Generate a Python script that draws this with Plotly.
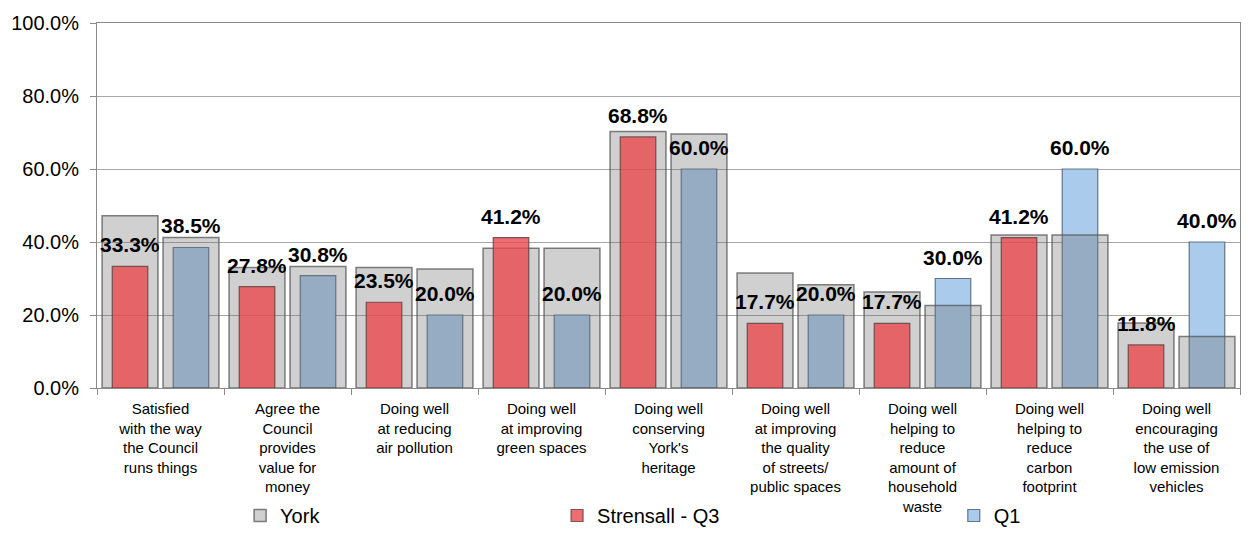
import plotly.graph_objects as go

categories = [
    "Satisfied<br>with the way<br>the Council<br>runs things",
    "Agree the<br>Council<br>provides<br>value for<br>money",
    "Doing well<br>at reducing<br>air pollution",
    "Doing well<br>at improving<br>green spaces",
    "Doing well<br>conserving<br>York's<br>heritage",
    "Doing well<br>at improving<br>the quality<br>of streets/<br>public spaces",
    "Doing well<br>helping to<br>reduce<br>amount of<br>household<br>waste",
    "Doing well<br>helping to<br>reduce<br>carbon<br>footprint",
    "Doing well<br>encouraging<br>the use of<br>low emission<br>vehicles",
]
york_q3 = [0.472, 0.330, 0.330, 0.383, 0.703, 0.315, 0.263, 0.419, 0.178]
york_q1 = [0.412, 0.333, 0.326, 0.383, 0.696, 0.283, 0.226, 0.419, 0.141]
strensall_q3 = [0.333, 0.278, 0.235, 0.412, 0.688, 0.177, 0.177, 0.412, 0.118]
strensall_q1 = [0.385, 0.308, 0.200, 0.200, 0.600, 0.200, 0.300, 0.600, 0.400]
y_ticks = [0.0, 0.2, 0.4, 0.6, 0.8, 1.0]

FONT = "Liberation Sans, Arial, sans-serif"
idx = list(range(len(categories)))
x_q3 = [i - 0.24 for i in idx]
x_q1 = [i + 0.24 for i in idx]
WIDE = 0.44
NARROW = 0.28
grey_fill = "rgba(110,110,110,0.32)"
grey_line = dict(color="rgba(85,85,85,0.75)", width=1.5)

fig = go.Figure()
fig.add_trace(go.Bar(
    x=x_q1, y=strensall_q1, width=NARROW, name="Q1", legend="legend3",
    marker=dict(color="rgb(170,203,236)", line=dict(color="rgba(70,90,110,0.8)", width=1.2)),
))
fig.add_trace(go.Bar(
    x=x_q1, y=york_q1, width=WIDE, name="York", showlegend=False,
    marker=dict(color=grey_fill, line=grey_line),
))
fig.add_trace(go.Bar(
    x=x_q3, y=york_q3, width=WIDE, name="York", legend="legend",
    marker=dict(color=grey_fill, line=grey_line),
))
fig.add_trace(go.Bar(
    x=x_q3, y=strensall_q3, width=NARROW, name="Strensall - Q3", legend="legend2",
    marker=dict(color="rgba(233,73,78,0.8)", line=dict(color="rgba(90,60,60,0.8)", width=1.2)),
))

# value labels placed above the coloured bars
for xs, ys in [(x_q3, strensall_q3), (x_q1, strensall_q1)]:
    for xv, yv in zip(xs, ys):
        fig.add_annotation(
            x=xv, y=yv, xref="x", yref="y", text=f"{yv:.1%}",
            showarrow=False, xanchor="center", yanchor="bottom", yshift=8,
            font=dict(family=FONT, size=21, color="black", weight="bold"),
        )

leg_common = dict(orientation="h", yanchor="bottom", y=-0.4027, xanchor="left",
                  font=dict(family=FONT, size=20, color="black"),
                  bgcolor="rgba(0,0,0,0)", borderwidth=0)

fig.update_layout(
    width=1251, height=535,
    margin=dict(l=97, r=11, t=23, b=147, autoexpand=False),
    paper_bgcolor="white", plot_bgcolor="white",
    barmode="overlay",
    font=dict(family=FONT, color="black"),
    xaxis=dict(
        range=[-0.5, len(categories) - 0.5], automargin=False,
        tickmode="array", tickvals=idx, ticktext=categories, ticks="",
        tickfont=dict(family=FONT, size=15, color="black"),
        ticklabelstandoff=7,
        showline=True, linecolor="#8a8a8a", linewidth=1, mirror=True,
        showgrid=False, zeroline=False,
        minor=dict(tickmode="array", tickvals=[i - 0.5 for i in range(len(categories) + 1)],
                   ticks="outside", ticklen=6, tickcolor="#8a8a8a", showgrid=False),
    ),
    yaxis=dict(
        range=[0, 1], tickmode="array", tickvals=y_ticks, tickformat=".1%",
        automargin=False,
        ticks="outside", ticklen=6, tickcolor="#8a8a8a",
        tickfont=dict(family=FONT, size=20, color="black"),
        showgrid=True, gridcolor="#a6a6a6", gridwidth=1,
        showline=True, linecolor="#8a8a8a", linewidth=1, mirror=True,
        zeroline=False, ticklabelstandoff=7,
    ),
    legend=dict(x=0.1252, **leg_common),
    legend2=dict(x=0.4025, **leg_common),
    legend3=dict(x=0.7496, **leg_common),
)

fig.write_html("out.html", config={"displayModeBar": False},
               post_script="document.body.style.margin='0';")
